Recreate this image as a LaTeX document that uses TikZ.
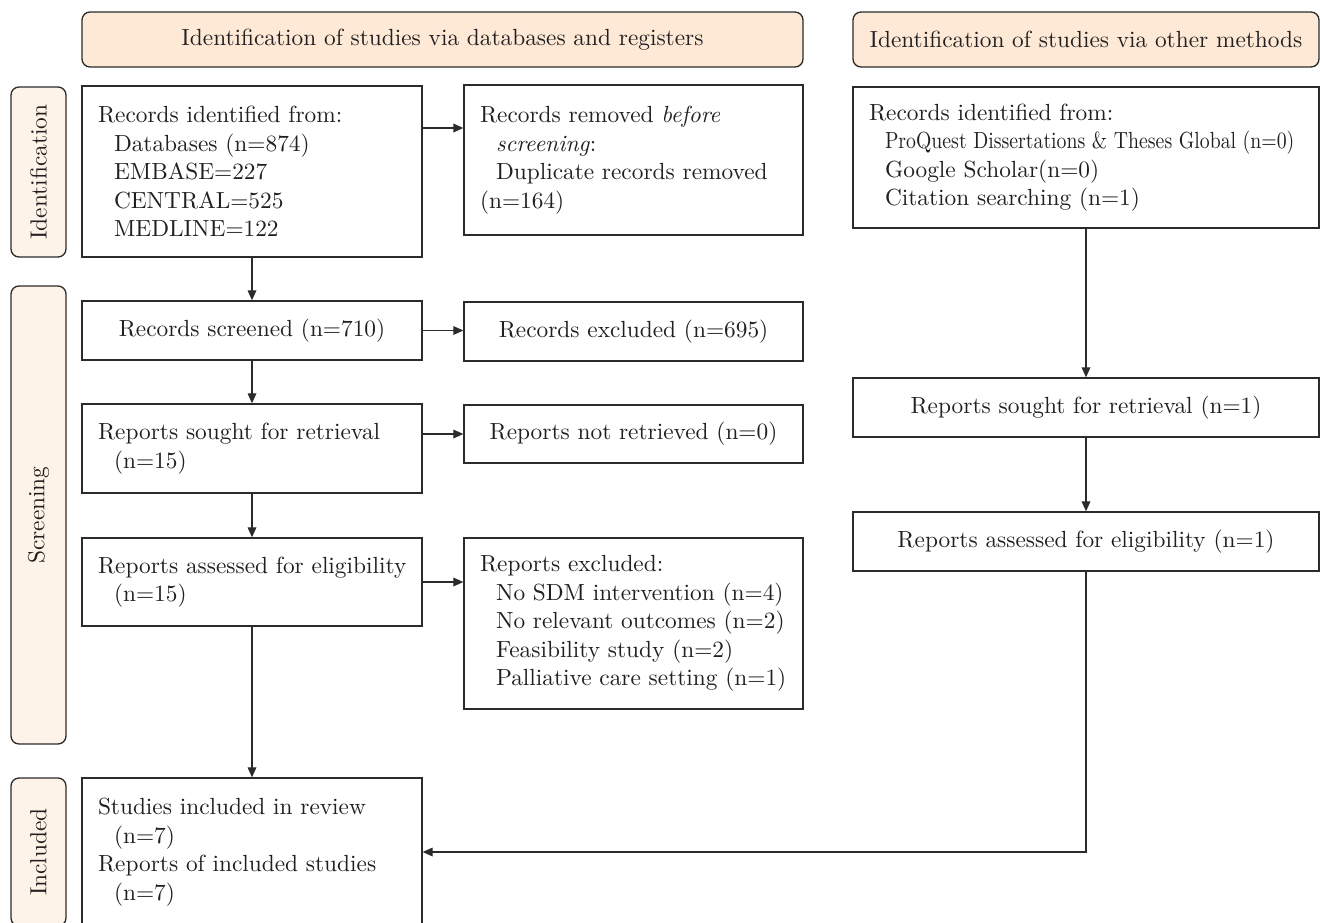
\documentclass[tikz,border=0pt]{standalone}
\usepackage{fontspec}
\setmainfont{lmroman10}[Extension=.otf, UprightFont=*-regular, ItalicFont=*-italic, BoldFont=*-bold]
\usetikzlibrary{arrows.meta,positioning}

\definecolor{headfill}{HTML}{FDE9D6}
\definecolor{phasefill}{HTML}{FEF3E8}
\definecolor{linecol}{HTML}{2B2B2B}
\definecolor{txtcol}{HTML}{231F20}

\newcommand{\fs}{\fontsize{17.5}{21.4}\selectfont}
\newcommand{\indt}{\hspace*{12pt}}

\begin{document}
\begin{tikzpicture}[x=0.75pt, y=-0.75pt, >={Triangle[length=7.5pt,width=6.5pt]}, line width=0.9pt, draw=linecol, text=txtcol]
        \tikzstyle{box}=[draw=linecol, fill=white, line width=1pt, inner xsep=12pt, inner ysep=0pt, align=left, font=\fs]
        \tikzstyle{lcol}=[text width=231pt]
        \tikzstyle{mcol}=[text width=230.25pt]
        \tikzstyle{rcol}=[text width=325.5pt]
        \tikzstyle{head}=[draw=linecol, fill=headfill, line width=1pt, rounded corners=6pt, minimum height=41.25pt, align=center, font=\fs]
        \tikzstyle{phase}=[draw=linecol, fill=phasefill, line width=1pt, rounded corners=6pt, rotate=90, minimum height=41.25pt, font=\fs]

        \useasboundingbox (0,0) rectangle (1320,922);
        \clip (0,0) rectangle (1320,922);

        % headers and phases
        \node[head, minimum width=540.75pt] (hdb) at (442.5,39.5) {Identification of studies via databases and registers};
        \node[head, minimum width=349.5pt]  (hot) at (1086,39.5)  {Identification of studies via other methods};

        \node[phase, minimum width=127.5pt] (pid) at (38.5,172) {Identification};
        \node[phase, minimum width=343.5pt] (psc) at (38.5,515) {Screening};
        \node[phase, minimum width=111pt]   (pin) at (38.5,852) {Included};

        % databases and registers
        \node[box, lcol, minimum height=128.25pt] (rid) at (252,171.5)
            {Records identified from:\\ \indt Databases (n=874)\\ \indt EMBASE=227\\ \indt CENTRAL=525\\ \indt MEDLINE=122};
        \node[box, mcol, minimum height=112.5pt] (rrm) at (633.5,160)
            {Records removed \textit{before}\\ \indt\textit{screening}:\\ \indt Duplicate records removed\\ (n=164)};
        \node[box, lcol, align=center, minimum height=44.25pt] (scr) at (252,330.5) {Records screened (n=710)};
        \node[box, mcol, align=center, minimum height=44.25pt] (exc) at (633.5,331.5) {Records excluded (n=695)};
        \node[box, lcol, minimum height=66.75pt] (sgt) at (252,448.5) {Reports sought for retrieval\\ \indt(n=15)};
        \node[box, mcol, align=center, minimum height=43.5pt] (nrt) at (633.5,434) {Reports not retrieved (n=0)};
        \node[box, lcol, minimum height=66pt] (ass) at (252,582) {\mbox{Reports assessed for eligibility}\\ \indt(n=15)};
        \node[box, mcol, minimum height=128.25pt] (rex) at (633.5,623.5)
            {Reports excluded:\\ \indt No SDM intervention (n=4)\\ \indt No relevant outcomes (n=2)\\ \indt Feasibility study (n=2)\\ \indt Palliative care setting (n=1)};
        \node[box, lcol, minimum height=111pt] (inc) at (252,852)
            {Studies included in review\\ \indt(n=7)\\ Reports of included studies\\ \indt(n=7)};

        % other methods
        \node[box, rcol, minimum height=105.75pt] (roth) at (1086,157.5)
            {Records identified from:\\ \indt\resizebox{307pt}{\height}{ProQuest Dissertations \& Theses Global (n=0)}\\ \indt Google Scholar(n=0)\\ \indt Citation searching (n=1)};
        \node[box, rcol, align=center, minimum height=44.25pt] (osgt) at (1086,407.5) {Reports sought for retrieval (n=1)};
        \node[box, rcol, align=center, minimum height=44.25pt] (oass) at (1086,541.5) {Reports assessed for eligibility (n=1)};

        \path[->]
            (rid.east |- 0,128) edge (rrm.west |- 0,128)
            (rid)               edge (scr)
            (scr.east)          edge (scr.east -| exc.west)
            (scr)               edge (sgt)
            (sgt.east |- nrt)   edge (nrt.west)
            (sgt)               edge (ass)
            (ass.east)          edge (ass.east -| rex.west)
            (ass)               edge (inc)
            (roth)              edge (osgt)
            (osgt)              edge (oass)
        ;
        \draw[->] (oass.south) |- (inc.east);
\end{tikzpicture}
\end{document}
